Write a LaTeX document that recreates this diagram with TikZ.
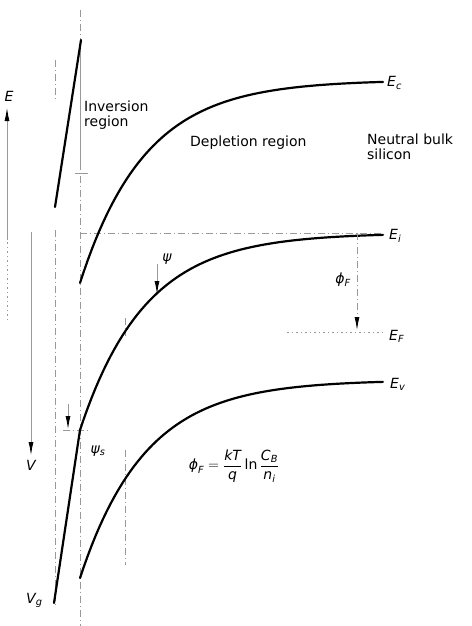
\documentclass[tikz,border=0pt]{standalone}
\usepackage{amsmath}
\usepackage{fontspec}
\setmainfont{DejaVu Sans}
\usetikzlibrary{arrows.meta}
\begin{document}
\begin{tikzpicture}[x=1pt,y=-1pt,
  band/.style={line width=2.2pt, line cap=round},
  guide/.style={gray!80, line width=0.8pt, dash pattern=on 7pt off 3pt on 1pt off 3pt},
  faint/.style={gray!80, line width=0.8pt},
  dotline/.style={gray!80, line width=0.8pt, dash pattern=on 1.5pt off 3pt},
  lbl/.style={font=\fontsize{14}{15}\selectfont, inner sep=0pt, align=left},
  sym/.style={font=\fontsize{14}{15}\selectfont\itshape, inner sep=0pt},
  arr/.style={-{Latex[length=13pt,width=5pt,black]}},
]
\useasboundingbox (0,0) rectangle (471,626);
% guide lines
\draw[guide] (80,10) -- (80,40);
\draw[faint] (80,40) -- (80,170);
\draw[faint] (75,173) -- (88,173);
\draw[guide] (80,176) -- (80,626);
\draw[guide] (55,60) -- (55,100);
\draw[guide] (55,230) -- (55,605);
\draw[guide] (80,233) -- (383,233);
\draw[dotline] (287,332) -- (385,332);
\draw[guide] (63,430) -- (90,430);
\draw[guide] (125,318) -- (125,336);
\draw[guide] (125,450) -- (125,565);
% axes
\coordinate (Ebot) at (7,320);
\coordinate (Emid) at (7,240);
\coordinate (Etop) at (7,108);
\draw[dotline] (Ebot) -- (Emid);
\draw[faint, arr] (Emid) -- (Etop);
\coordinate (Vtop) at (31,232);
\coordinate (Vbot) at (31,455);
\draw[faint, arr] (Vtop) -- (Vbot);
% oxide lines
\coordinate (ox1a) at (55,207);
\coordinate (ox1b) at (81,40);
\draw[band] (ox1a) -- (ox1b);
\coordinate (ox2a) at (54,603);
\coordinate (ox2b) at (80,430);
\draw[band] (ox2a) -- (ox2b);
% bands
\draw[band] plot[domain=80:383, samples=80] (\x, {80 + 203*exp(-(\x-80)/65)});
\draw[band] plot[domain=80:383, samples=80] (\x, {233 + 197*exp(-(\x-80)/65)});
\draw[band] plot[domain=80:383, samples=80] (\x, {380 + 198*exp(-(\x-80)/65)});
% small arrows
\coordinate (psiA) at (157,264);
\coordinate (psiB) at (157,294);
\draw[faint, arr] (psiA) -- (psiB);
\coordinate (psisA) at (68,404);
\coordinate (psisB) at (68,429);
\draw[faint, arr] (psisA) -- (psisB);
\coordinate (phiA) at (357,233);
\coordinate (phiB) at (357,330);
\draw[guide, arr] (phiA) -- (phiB);
% labels
\node[sym] (lE) at (9,96) {E};
\node[sym] (lV) at (31,465) {V};
\node[sym, anchor=west] (lVg) at (26,600) {V\textsubscript{g}};
\node[lbl, anchor=north west] (linv) at (84,101) {Inversion\\region};
\node[lbl, anchor=base west] (ldep) at (190,146) {Depletion region};
\node[lbl, anchor=north west] (lneu) at (367,134) {Neutral bulk\\silicon};
\node[sym, anchor=west] (lEc) at (387,83) {E\textsubscript{c}};
\node[sym, anchor=west] (lEi) at (389,236) {E\textsubscript{i}};
\node[sym, anchor=west] (lEF) at (389,336) {E\textsubscript{F}};
\node[sym, anchor=west] (lEv) at (390,384) {E\textsubscript{v}};
\node[sym] (lphi) at (343,280) {ϕ\textsubscript{F}};
\node[sym] (lpsi) at (167,259) {ψ};
\node[sym] (lpsis) at (98,451) {ψ\textsubscript{s}};
\node[lbl] (form) at (234,466) {$\textit{ϕ}_{\textit{F}} = \dfrac{\textit{kT}}{\textit{q}}\,\text{ln}\,\dfrac{\textit{C}_{\textit{B}}}{\textit{n}_{\textit{i}}}$};
\end{tikzpicture}
\end{document}
